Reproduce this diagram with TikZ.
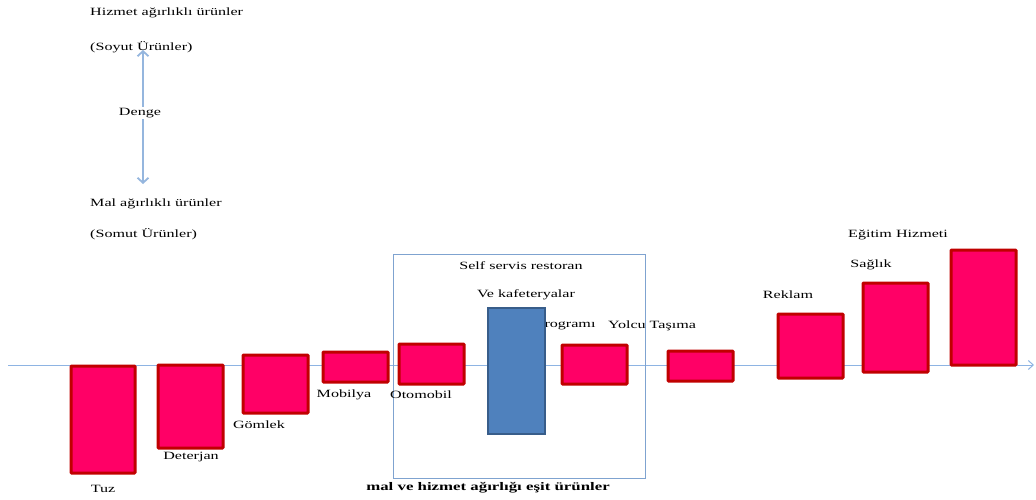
\documentclass[tikz,border=0pt]{standalone}
\usepackage{fontspec}
\setmainfont[FakeStretch=1.45]{Liberation Serif}
\usetikzlibrary{arrows.meta}
\definecolor{barred}{HTML}{FF0066}
\definecolor{barline}{HTML}{C00000}
\definecolor{barblue}{HTML}{4F81BD}
\definecolor{bluedge}{HTML}{385D8A}
\definecolor{axisblue}{HTML}{8EB4E3}
\definecolor{arrowblue}{HTML}{95B6DE}
\definecolor{boxblue}{HTML}{7FA3D0}
\tikzset{
  bar/.style={draw=barline, fill=barred, line width=3pt, rounded corners=0.8pt, inner sep=0pt, minimum width=65},
  bluebar/.style={draw=bluedge, fill=barblue, line width=2pt, inner sep=0pt},
  lbl/.style={font=\fontsize{11.1}{13}\selectfont, inner sep=0pt, text=black},
  frame/.style={draw=boxblue, line width=1pt, inner sep=0pt},
}
\begin{document}
\begin{tikzpicture}[x=1pt,y=-1pt]
\useasboundingbox (0,0) rectangle (1036,500);
% axis
\coordinate (axl) at (8,365);
\coordinate (axr) at (1034,365);
\draw[axisblue, line width=1pt, -{Straight Barb[length=5pt,width=9pt]}] (axl) -- (axr);
% frame
\node[frame, minimum width=252, minimum height=224] (box) at (519,366) {};
% bars
\node[bar, minimum width=64, minimum height=107] (tuz) at (103,419.5) {};
\node[bar, minimum height=83] (det) at (190.5,406.5) {};
\node[bar, minimum height=58] (gom) at (275.5,384) {};
\node[bar, minimum height=30] (mob) at (355.5,367) {};
\node[bar, minimum height=40] (oto) at (431.5,364) {};
\node[lbl] (prog) at (570,326) {rogramı};
\node[bluebar, minimum width=57, minimum height=126] (self) at (516.5,371) {};
\node[bar, minimum height=39] (tur) at (594.5,364.5) {};
\node[bar, minimum height=30] (yol) at (700.5,366) {};
\node[bar, minimum height=64] (rek) at (810.5,346) {};
\node[bar, minimum height=89] (sag) at (895.5,327.5) {};
\node[bar, minimum height=115] (egi) at (983.5,307.5) {};
% labels
\node[lbl] (ltuz) at (103,489) {Tuz};
\node[lbl] (ldet) at (191,457) {Deterjan};
\node[lbl] (lgom) at (259,425) {Gömlek};
\node[lbl] (lmob) at (344,395) {Mobilya};
\node[lbl] (loto) at (421,395) {Otomobil};
\node[lbl] (lyol) at (652,326) {Yolcu Taşıma};
\node[lbl] (lrek) at (788,295) {Reklam};
\node[lbl] (lsag) at (871,265) {Sağlık};
\node[lbl] (legi) at (898,235) {Eğitim Hizmeti};
\node[lbl] (lself) at (521,266) {Self servis restoran};
\node[lbl] (lkaf) at (526,295) {Ve kafeteryalar};
\node[lbl, font=\fontsize{11.6}{13}\selectfont\bfseries] (lesit) at (488,488) {mal ve hizmet ağırlığı eşit ürünler};
% top-left scale
\node[lbl, anchor=west] (hiz) at (90,13) {Hizmet ağırlıklı ürünler};
\node[lbl, anchor=west] (soy) at (90,47) {(Soyut Ürünler)};
\node[lbl, anchor=west] (mal) at (90,204) {Mal ağırlıklı ürünler};
\node[lbl, anchor=west] (som) at (90,234) {(Somut Ürünler)};
\coordinate (atop) at (143,50);
\coordinate (abot) at (143,184);
\draw[arrowblue, line width=1.8pt, {Straight Barb[length=5pt,width=11pt]}-{Straight Barb[length=5pt,width=11pt]}] (atop) -- (abot);
\node[lbl, fill=white, inner sep=1pt] (denge) at (140,113) {Denge};
\end{tikzpicture}
\end{document}
